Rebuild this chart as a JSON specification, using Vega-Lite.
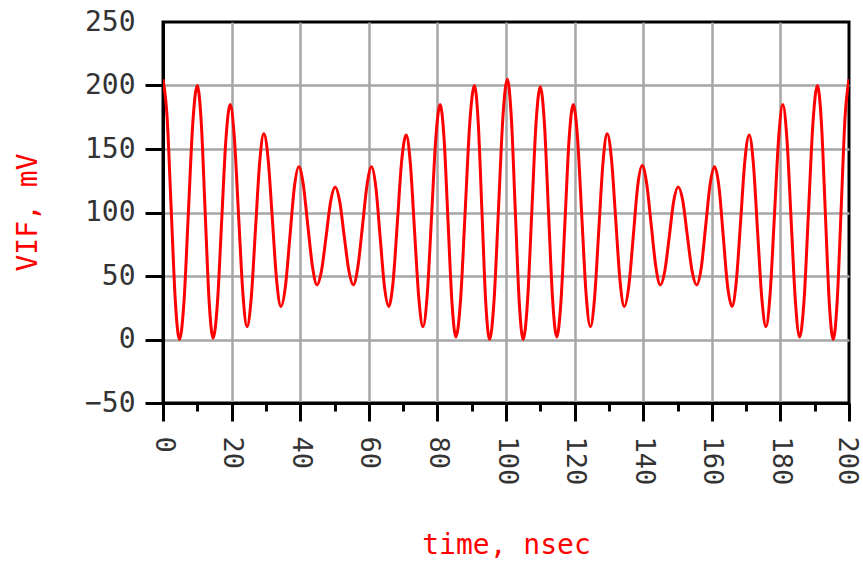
{
  "$schema": "https://vega.github.io/schema/vega-lite/v6.json",
  "width": 686,
  "height": 381,
  "autosize": {"type": "none"},
  "padding": {"left": 163, "top": 22, "right": 14, "bottom": 158},
  "background": "white",
  "config": {"view": {"stroke": "black", "strokeWidth": 3}},
  "data": {"values": [
    {"t": 0, "v": 205}, {"t": 1.2, "v": 175}, {"t": 2.4, "v": 102}, {"t": 3.6, "v": 30},
    {"t": 4.8, "v": 0}, {"t": 6.1, "v": 29}, {"t": 7.4, "v": 100}, {"t": 8.7, "v": 171},
    {"t": 10, "v": 200}, {"t": 11.15, "v": 171}, {"t": 12.3, "v": 100}, {"t": 13.45, "v": 30},
    {"t": 14.6, "v": 1}, {"t": 15.85, "v": 28}, {"t": 17.1, "v": 93}, {"t": 18.35, "v": 158},
    {"t": 19.6, "v": 185}, {"t": 20.8, "v": 159}, {"t": 22.05, "v": 97}, {"t": 23.3, "v": 36},
    {"t": 24.5, "v": 10}, {"t": 25.7, "v": 32}, {"t": 26.95, "v": 86}, {"t": 28.2, "v": 140},
    {"t": 29.4, "v": 162}, {"t": 30.65, "v": 142}, {"t": 31.9, "v": 94}, {"t": 33.15, "v": 46},
    {"t": 34.4, "v": 26}, {"t": 35.7, "v": 42}, {"t": 37, "v": 81}, {"t": 38.3, "v": 120},
    {"t": 39.6, "v": 136}, {"t": 40.9, "v": 122}, {"t": 42.25, "v": 89}, {"t": 43.6, "v": 57},
    {"t": 44.9, "v": 43}, {"t": 46.2, "v": 54}, {"t": 47.55, "v": 81}, {"t": 48.9, "v": 109},
    {"t": 50.2, "v": 120}, {"t": 51.5, "v": 109}, {"t": 52.85, "v": 81}, {"t": 54.2, "v": 54},
    {"t": 55.5, "v": 43}, {"t": 56.8, "v": 57}, {"t": 58.15, "v": 89}, {"t": 59.5, "v": 122},
    {"t": 60.8, "v": 136}, {"t": 62.05, "v": 120}, {"t": 63.3, "v": 81}, {"t": 64.55, "v": 42},
    {"t": 65.8, "v": 26}, {"t": 67.1, "v": 46}, {"t": 68.35, "v": 93}, {"t": 69.6, "v": 141},
    {"t": 70.9, "v": 161}, {"t": 72.1, "v": 139}, {"t": 73.35, "v": 85}, {"t": 74.6, "v": 32},
    {"t": 75.8, "v": 10}, {"t": 77.05, "v": 36}, {"t": 78.3, "v": 97}, {"t": 79.55, "v": 159},
    {"t": 80.8, "v": 185}, {"t": 81.95, "v": 158}, {"t": 83.1, "v": 93}, {"t": 84.25, "v": 29},
    {"t": 85.4, "v": 2}, {"t": 86.75, "v": 31}, {"t": 88.1, "v": 101}, {"t": 89.45, "v": 171},
    {"t": 90.8, "v": 200}, {"t": 91.9, "v": 171}, {"t": 93, "v": 100}, {"t": 94.1, "v": 29},
    {"t": 95.2, "v": 0}, {"t": 96.5, "v": 30}, {"t": 97.8, "v": 102}, {"t": 99.1, "v": 175},
    {"t": 100.4, "v": 205}, {"t": 101.55, "v": 175}, {"t": 102.7, "v": 102}, {"t": 103.85, "v": 30},
    {"t": 105, "v": 0}, {"t": 106.25, "v": 29}, {"t": 107.5, "v": 99}, {"t": 108.75, "v": 170},
    {"t": 110, "v": 199}, {"t": 111.2, "v": 170}, {"t": 112.4, "v": 100}, {"t": 113.6, "v": 31},
    {"t": 114.8, "v": 2}, {"t": 116, "v": 29}, {"t": 117.2, "v": 93}, {"t": 118.4, "v": 158},
    {"t": 119.6, "v": 185}, {"t": 120.85, "v": 159}, {"t": 122.1, "v": 97}, {"t": 123.35, "v": 36},
    {"t": 124.6, "v": 10}, {"t": 125.8, "v": 32}, {"t": 127.05, "v": 86}, {"t": 128.3, "v": 140},
    {"t": 129.5, "v": 162}, {"t": 130.75, "v": 142}, {"t": 132, "v": 94}, {"t": 133.25, "v": 46},
    {"t": 134.5, "v": 26}, {"t": 135.8, "v": 42}, {"t": 137.1, "v": 81}, {"t": 138.4, "v": 121},
    {"t": 139.7, "v": 137}, {"t": 141, "v": 123}, {"t": 142.35, "v": 90}, {"t": 143.7, "v": 57},
    {"t": 145, "v": 43}, {"t": 146.3, "v": 54}, {"t": 147.6, "v": 81}, {"t": 148.9, "v": 109},
    {"t": 150.2, "v": 120}, {"t": 151.55, "v": 109}, {"t": 152.9, "v": 81}, {"t": 154.25, "v": 54},
    {"t": 155.6, "v": 43}, {"t": 156.9, "v": 56}, {"t": 158.2, "v": 89}, {"t": 159.5, "v": 122},
    {"t": 160.8, "v": 136}, {"t": 162.1, "v": 120}, {"t": 163.35, "v": 81}, {"t": 164.6, "v": 42},
    {"t": 165.9, "v": 26}, {"t": 167.15, "v": 46}, {"t": 168.4, "v": 93}, {"t": 169.65, "v": 141},
    {"t": 170.9, "v": 161}, {"t": 172.1, "v": 139}, {"t": 173.35, "v": 85}, {"t": 174.6, "v": 32},
    {"t": 175.8, "v": 10}, {"t": 177, "v": 36}, {"t": 178.25, "v": 97}, {"t": 179.5, "v": 159},
    {"t": 180.7, "v": 185}, {"t": 181.9, "v": 158}, {"t": 183.15, "v": 93}, {"t": 184.4, "v": 29},
    {"t": 185.6, "v": 2}, {"t": 186.9, "v": 31}, {"t": 188.2, "v": 101}, {"t": 189.5, "v": 171},
    {"t": 190.8, "v": 200}, {"t": 191.95, "v": 171}, {"t": 193.1, "v": 100}, {"t": 194.25, "v": 29},
    {"t": 195.4, "v": 0}, {"t": 196.55, "v": 30}, {"t": 197.7, "v": 102}, {"t": 198.85, "v": 175},
    {"t": 200, "v": 205}
  ]},
  "mark": {"type": "line", "color": "#ff0000", "strokeWidth": 3, "interpolate": "monotone", "clip": true},
  "encoding": {
    "x": {
      "field": "t", "type": "quantitative",
      "scale": {"domain": [0, 200], "nice": false, "zero": false},
      "axis": {
        "title": "time, nsec",
        "values": [0, 10, 20, 30, 40, 50, 60, 70, 80, 90, 100, 110, 120, 130, 140, 150, 160, 170, 180, 190, 200],
        "labelExpr": "datum.value % 20 == 0 ? datum.label : ''",
        "labelAngle": 90, "labelAlign": "left", "labelBaseline": "middle",
        "labelFont": "DejaVu Sans Mono", "labelFontSize": 27, "labelColor": "#333333",
        "labelPadding": 15, "labelFlush": false, "labelOverlap": false,
        "labelOffset": {"condition": {"test": "datum.value == 200", "value": -3}, "value": 0},
        "tickSize": {"condition": {"test": "datum.value % 20 == 0", "value": 18}, "value": 8},
        "tickColor": "black", "tickWidth": 3,
        "domainColor": "black", "domainWidth": 3,
        "grid": true, "gridColor": "#a6a6a6", "gridWidth": 2.5,
        "gridOpacity": {"condition": {"test": "datum.value % 20 == 0 && datum.value > 0 && datum.value < 200", "value": 1}, "value": 0},
        "titleFont": "DejaVu Sans Mono", "titleFontSize": 28, "titleColor": "#ff0000", "titleFontWeight": "normal",
        "titleX": 343, "titleY": 142, "titleAlign": "center", "titleBaseline": "middle"
      }
    },
    "y": {
      "field": "v", "type": "quantitative",
      "scale": {"domain": [-50, 250], "nice": false, "zero": false},
      "axis": {
        "title": "VIF, mV",
        "values": [-50, 0, 50, 100, 150, 200, 250],
        "labelFont": "DejaVu Sans Mono", "labelFontSize": 28, "labelColor": "#333333",
        "labelPadding": 10, "labelFlush": false, "labelOverlap": false,
        "tickSize": 18, "tickColor": "black", "tickWidth": 3,
        "tickOpacity": {"condition": {"test": "datum.value == 250", "value": 0}, "value": 1},
        "domainColor": "black", "domainWidth": 3,
        "grid": true, "gridColor": "#a6a6a6", "gridWidth": 2.5,
        "gridOpacity": {"condition": {"test": "datum.value > -50 && datum.value < 250", "value": 1}, "value": 0},
        "titleFont": "DejaVu Sans Mono", "titleFontSize": 28, "titleColor": "#ff0000", "titleFontWeight": "normal",
        "titleAngle": -90, "titleX": -135, "titleY": 190, "titleAlign": "center", "titleBaseline": "middle"
      }
    }
  }
}
